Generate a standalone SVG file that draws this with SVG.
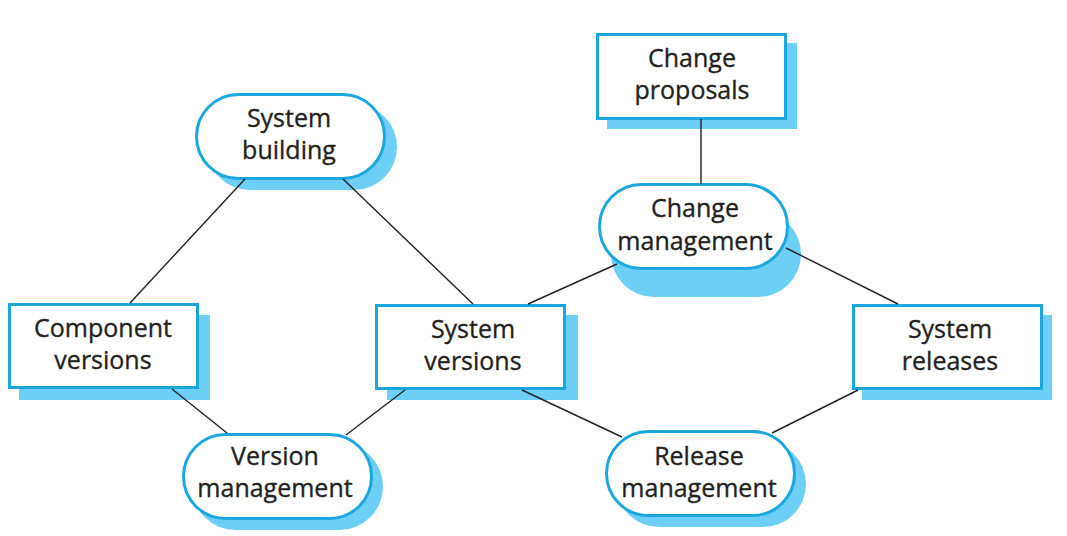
<svg xmlns="http://www.w3.org/2000/svg" width="1067" height="536" viewBox="0 0 1067 536">
<style>
.shadow{fill:#6DCFF6;stroke:none}
.box{fill:#FFFFFF;stroke:#1BA6DF;stroke-width:3}
.lbl{font-family:"Open Sans","Noto Sans","Liberation Sans",sans-serif;font-size:25px;fill:#231F20;stroke:#231F20;stroke-width:0.35;text-anchor:middle}
.conn{stroke:#231F20;stroke-width:1.4;fill:none}
</style>
<rect width="1067" height="536" fill="#FFFFFF"/>
<g id="node-system-building">
<rect class="shadow" x="207" y="104" width="190" height="86" rx="43"/>
<rect class="box" x="196.5" y="94.5" width="188" height="84" rx="42"/>
<text class="lbl" x="289" y="127">System</text>
<text class="lbl" x="289" y="159">building</text>
</g>
<g id="node-component-versions">
<rect class="shadow" x="19" y="315" width="191" height="85"/>
<rect class="box" x="9.5" y="304.5" width="188" height="83"/>
<text class="lbl" x="103" y="337">Component</text>
<text class="lbl" x="103" y="369">versions</text>
</g>
<g id="node-change-proposals">
<rect class="shadow" x="607" y="43" width="190" height="86"/>
<rect class="box" x="597.5" y="34.5" width="188" height="84"/>
<text class="lbl" x="692" y="67">Change</text>
<text class="lbl" x="692" y="99">proposals</text>
</g>
<g id="node-change-management">
<rect class="shadow" x="611" y="211" width="190" height="86" rx="43"/>
<rect class="box" x="599.5" y="184.5" width="188" height="84" rx="42"/>
<text class="lbl" x="695" y="217">Change</text>
<text class="lbl" x="695" y="250">management</text>
</g>
<g id="node-system-versions">
<rect class="shadow" x="387" y="315" width="191" height="85"/>
<rect class="box" x="376.5" y="305.5" width="188" height="83"/>
<text class="lbl" x="473" y="338">System</text>
<text class="lbl" x="473" y="370">versions</text>
</g>
<g id="node-system-releases">
<rect class="shadow" x="862" y="315" width="190" height="85"/>
<rect class="box" x="853.5" y="305.5" width="188" height="83"/>
<text class="lbl" x="950" y="338">System</text>
<text class="lbl" x="950" y="370">releases</text>
</g>
<g id="node-version-management">
<rect class="shadow" x="192" y="443" width="191" height="87" rx="43.5"/>
<rect class="box" x="183.5" y="434.5" width="188" height="84" rx="42"/>
<text class="lbl" x="275" y="465">Version</text>
<text class="lbl" x="275" y="497">management</text>
</g>
<g id="node-release-management">
<rect class="shadow" x="616" y="441" width="190" height="86" rx="43"/>
<rect class="box" x="606.5" y="431.5" width="188" height="84" rx="42"/>
<text class="lbl" x="699" y="465">Release</text>
<text class="lbl" x="699" y="497">management</text>
</g>
<g id="connectors">
<line class="conn" x1="245" y1="179" x2="130" y2="303"/>
<line class="conn" x1="343" y1="179" x2="473" y2="304"/>
<line class="conn" x1="172" y1="389" x2="227" y2="433"/>
<line class="conn" x1="405" y1="390" x2="346" y2="435"/>
<line class="conn" x1="528" y1="304" x2="617" y2="264"/>
<line class="conn" x1="522" y1="390" x2="622" y2="437"/>
<line class="conn" x1="701" y1="119" x2="701" y2="184"/>
<line class="conn" x1="786" y1="248" x2="898" y2="304"/>
<line class="conn" x1="858" y1="390" x2="772" y2="433"/>
</g>
</svg>
